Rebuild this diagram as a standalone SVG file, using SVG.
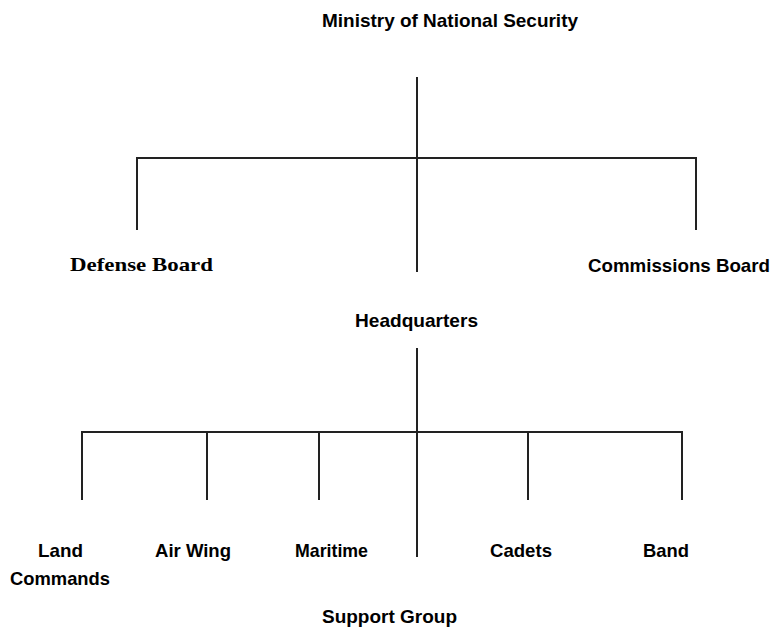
<svg xmlns="http://www.w3.org/2000/svg" width="772" height="632" viewBox="0 0 772 632">
<style>
.l{stroke:#222;stroke-width:2;fill:none}
.t{font-family:"Liberation Sans",Arial,sans-serif;font-weight:bold;font-size:19px;fill:#000}
.s{font-family:"Liberation Serif","Times New Roman",serif;font-weight:bold;font-size:19px;fill:#000}
</style>
<rect width="772" height="632" fill="#fff"/>
<g id="connectors">
<path class="l" d="M417 77V158M137 230V158H696V230M417 158V272"/>
<path class="l" d="M417 348V432M82 500V432H682V500M207 432V500M319 432V500M528 432V500M417 432V557"/>
</g>
<g id="ministry"><text class="t" x="322" y="27" textLength="256" lengthAdjust="spacingAndGlyphs">Ministry of National Security</text></g>
<g id="defense"><text class="s" x="70" y="271" textLength="143" lengthAdjust="spacingAndGlyphs">Defense Board</text></g>
<g id="commissions"><text class="t" x="588" y="272" textLength="182" lengthAdjust="spacingAndGlyphs">Commissions Board</text></g>
<g id="hq"><text class="t" x="355" y="327" textLength="123" lengthAdjust="spacingAndGlyphs">Headquarters</text></g>
<g id="land"><text class="t" x="38" y="557" textLength="45" lengthAdjust="spacingAndGlyphs">Land</text><text class="t" x="10" y="585" textLength="100" lengthAdjust="spacingAndGlyphs">Commands</text></g>
<g id="air"><text class="t" x="155" y="557" textLength="76" lengthAdjust="spacingAndGlyphs">Air Wing</text></g>
<g id="maritime"><text class="t" x="295" y="557" textLength="73" lengthAdjust="spacingAndGlyphs">Maritime</text></g>
<g id="cadets"><text class="t" x="490" y="557" textLength="62" lengthAdjust="spacingAndGlyphs">Cadets</text></g>
<g id="band"><text class="t" x="643" y="557" textLength="46" lengthAdjust="spacingAndGlyphs">Band</text></g>
<g id="support"><text class="t" x="322" y="623" textLength="135" lengthAdjust="spacingAndGlyphs">Support Group</text></g>
</svg>
